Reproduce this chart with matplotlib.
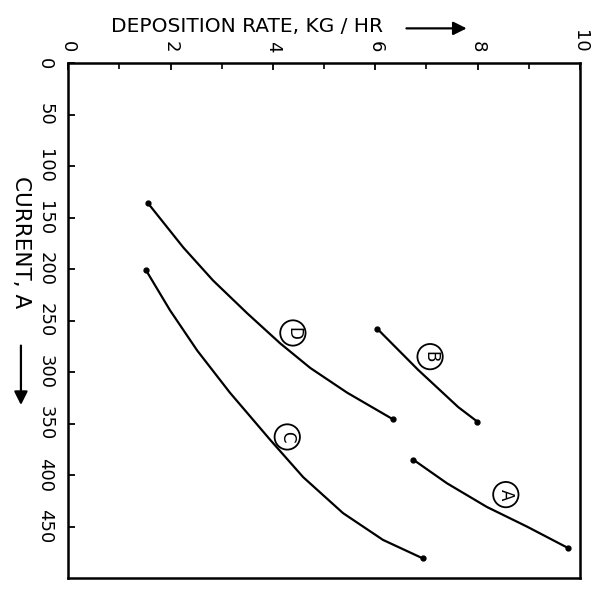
import matplotlib.pyplot as plt

# deposition rate (kg/hr) and current (A)
rate_a = [6.74, 7.40, 8.18, 8.96, 9.77]
curr_a = [385, 408, 431, 450, 471]
rate_b = [6.04, 6.84, 7.62, 7.99]
curr_b = [258, 298, 334, 348]
rate_c = [1.52, 1.99, 2.52, 3.16, 3.95, 4.59, 5.37, 6.15, 6.93]
curr_c = [201, 240, 279, 320, 366, 402, 437, 463, 481]
rate_d = [1.56, 2.25, 2.83, 3.50, 4.14, 4.73, 5.45, 6.35]
curr_d = [136, 179, 211, 243, 272, 296, 320, 346]

curve_names = ["A", "B", "C", "D"]
label_rate = [8.55, 7.07, 4.28, 4.39]
label_curr = [419, 285, 363, 262]

x_ticks = [0, 2, 4, 6, 8, 10]
y_ticks = [0, 50, 100, 150, 200, 250, 300, 350, 400, 450]

fig = plt.figure(figsize=(5.98, 5.91), dpi=100)
ax = fig.add_axes([0.114, 0.022, 0.856, 0.871])

curves = [(rate_a, curr_a), (rate_b, curr_b), (rate_c, curr_c), (rate_d, curr_d)]
for xs, ys in curves:
    ax.plot(xs, ys, color="black", linewidth=1.6, solid_joinstyle='round',
            solid_capstyle='round', marker='o', markersize=3.5,
            markevery=[0, len(xs) - 1])

for name, lx, ly in zip(curve_names, label_rate, label_curr):
    ax.text(lx, ly, name, rotation=-90, ha='center', va='center', fontsize=12,
            bbox=dict(boxstyle='circle,pad=0.22', fc='white', ec='black', lw=1.3))

ax.set_xlim(0, 10)
ax.set_ylim(500, 0)
ax.xaxis.tick_top()
ax.set_xticks(x_ticks)
ax.set_xticks(range(11), minor=True)
ax.set_yticks(y_ticks)
ax.set_xticklabels([str(v) for v in x_ticks], rotation=-90, fontsize=13)
ax.set_yticklabels([str(v) for v in y_ticks], rotation=-90, fontsize=13, va='center')
ax.tick_params(axis='x', direction='in', length=5, width=1.3, pad=8)
ax.tick_params(axis='y', direction='in', length=5, width=1.3, pad=10)
ax.tick_params(which='minor', direction='in', length=4, width=1.2)
for s in ax.spines.values():
    s.set_linewidth(1.8)

fig.text(0.185, 0.955, "DEPOSITION RATE, KG / HR", fontsize=14.5, ha='left', va='center')
ax.annotate("", xy=(0.785, 0.952), xytext=(0.675, 0.952), xycoords='figure fraction',
            arrowprops=dict(arrowstyle='-|>', color='black', lw=1.6, mutation_scale=20))
fig.text(0.035, 0.59, "CURRENT, A", fontsize=15.5, rotation=-90, ha='center', va='center')
ax.annotate("", xy=(0.035, 0.31), xytext=(0.035, 0.42), xycoords='figure fraction',
            arrowprops=dict(arrowstyle='-|>', color='black', lw=1.6, mutation_scale=20))

fig.savefig("out.png", dpi=100)
